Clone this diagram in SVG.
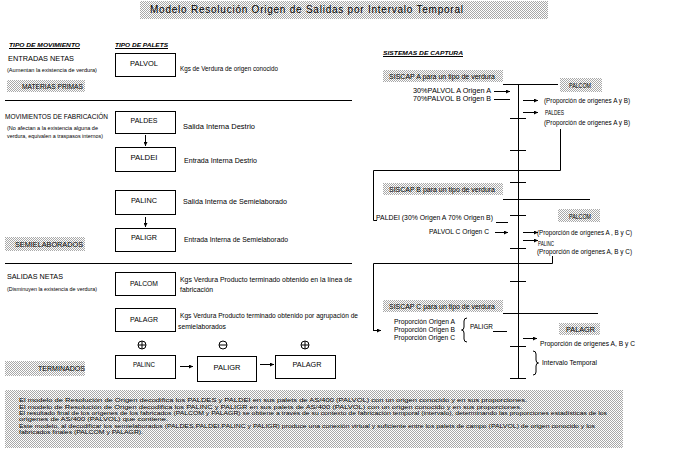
<svg xmlns="http://www.w3.org/2000/svg" width="700" height="451" viewBox="0 0 700 451">
<defs>
<pattern id="dith" width="2" height="2" patternUnits="userSpaceOnUse">
<rect width="2" height="2" fill="#ffffff"/>
<rect width="1" height="1" fill="#a8a8a8"/>
<rect x="1" y="1" width="1" height="1" fill="#a8a8a8"/>
</pattern>
<marker id="ah" viewBox="0 0 6 6" refX="6" refY="3" markerWidth="4" markerHeight="4" orient="auto" markerUnits="userSpaceOnUse">
<path d="M0,0 L6,3 L0,6 Z" fill="#000"/>
</marker>
</defs>
<style>
text{font-family:"Liberation Sans",Arial,sans-serif;fill:#000}
.t{font-size:6.3px}
.s{font-size:5.2px}
.n{font-size:6px}
.h{font-size:6.2px;font-weight:bold;font-style:italic}
.b{font-size:6.3px;text-anchor:middle}
.box{fill:#fff;stroke:#000;stroke-width:1}
.g{fill:url(#dith)}
.ln{stroke:#000;stroke-width:1;fill:none}
.ar{stroke:#000;stroke-width:1;fill:none;marker-end:url(#ah)}
</style>
<rect width="700" height="451" fill="#fff"/>

<g id="title">
<rect class="g" x="140" y="1" width="408" height="18"/>
<text x="150" y="13" style="font-size:10px" textLength="313" lengthAdjust="spacing">Modelo Resolución Origen de Salidas por Intervalo Temporal</text>
</g>

<g id="headers">
<text class="h" x="9" y="47" textLength="71" lengthAdjust="spacingAndGlyphs">TIPO DE MOVIMIENTO</text>
<line class="ln" x1="9" y1="48.5" x2="80" y2="48.5"/>
<text class="h" x="115" y="47" textLength="53" lengthAdjust="spacingAndGlyphs">TIPO DE PALETS</text>
<line class="ln" x1="115" y1="48.5" x2="168" y2="48.5"/>
<text class="h" x="383" y="55" textLength="80" lengthAdjust="spacingAndGlyphs">SISTEMAS DE CAPTURA</text>
<line class="ln" x1="383" y1="56.5" x2="463" y2="56.5"/>
</g>

<g id="entradas">
<text class="t" x="8" y="61" textLength="66" lengthAdjust="spacingAndGlyphs">ENTRADAS NETAS</text>
<text class="s" x="7" y="72" textLength="90" lengthAdjust="spacingAndGlyphs">(Aumentan la existencia de verdura)</text>
<rect class="g" x="7" y="80" width="78" height="12"/>
<text class="t" x="22" y="88.5" textLength="61" lengthAdjust="spacingAndGlyphs">MATERIAS PRIMAS</text>
</g>
<g id="palvol">
<rect class="box" x="115.5" y="53.5" width="60" height="23"/>
<text class="b" x="144" y="66" textLength="28" lengthAdjust="spacingAndGlyphs">PALVOL</text>
<text class="t" x="180" y="71" textLength="98" lengthAdjust="spacingAndGlyphs">Kgs de Verdura de origen conocido</text>
</g>

<g id="fabricacion">
<text class="t" x="5" y="118.5" textLength="103" lengthAdjust="spacingAndGlyphs">MOVIMIENTOS DE FABRICACIÓN</text>
<text class="s" x="7" y="130" textLength="91" lengthAdjust="spacingAndGlyphs">(No afectan a la existencia alguna de</text>
<text class="s" x="7" y="137.5" textLength="96" lengthAdjust="spacingAndGlyphs">verdura, equivalen a traspasos internos)</text>
</g>
<g id="paldes">
<rect class="box" x="115.5" y="111.5" width="60" height="22"/>
<text class="b" x="144" y="123" textLength="27" lengthAdjust="spacingAndGlyphs">PALDES</text>
<text class="t" x="183" y="128.5" textLength="72" lengthAdjust="spacingAndGlyphs">Salida Interna Destrio</text>
</g>
<g id="paldei">
<rect class="box" x="115.5" y="147.5" width="60" height="24"/>
<text class="b" x="144" y="160" textLength="27" lengthAdjust="spacingAndGlyphs">PALDEI</text>
<text class="t" x="184" y="162.5" textLength="73" lengthAdjust="spacingAndGlyphs">Entrada Interna Destrio</text>
</g>
<g id="palinc">
<rect class="box" x="115.5" y="190.5" width="60" height="24"/>
<text class="b" x="144" y="203" textLength="26" lengthAdjust="spacingAndGlyphs">PALINC</text>
<text class="t" x="183" y="203.5" textLength="104" lengthAdjust="spacingAndGlyphs">Salida Interna de Semielaborado</text>
</g>
<g id="paligr">
<rect class="box" x="115.5" y="228.5" width="60" height="23"/>
<text class="b" x="144" y="240" textLength="26" lengthAdjust="spacingAndGlyphs">PALIGR</text>
<text class="t" x="184" y="241.5" textLength="104" lengthAdjust="spacingAndGlyphs">Entrada Interna de Semielaborado</text>
</g>
<g id="semielaborados">
<rect class="g" x="5" y="237" width="80" height="14"/>
<text class="t" x="15" y="246.5" textLength="68" lengthAdjust="spacingAndGlyphs">SEMIELABORADOS</text>
</g>

<g id="salidas">
<text class="t" x="7" y="279" textLength="56" lengthAdjust="spacingAndGlyphs">SALIDAS NETAS</text>
<text class="s" x="7" y="290.5" textLength="90" lengthAdjust="spacingAndGlyphs">(Disminuyen la existencia de verdura)</text>
</g>
<g id="palcom">
<rect class="box" x="115.5" y="272.5" width="60" height="23"/>
<text class="b" x="144" y="286" textLength="28" lengthAdjust="spacingAndGlyphs">PALCOM</text>
<text class="t" x="180" y="281.5" textLength="172" lengthAdjust="spacingAndGlyphs">Kgs Verdura Producto terminado obtenido en la línea de</text>
<text class="t" x="180" y="292" textLength="33" lengthAdjust="spacingAndGlyphs">fabricación</text>
</g>
<g id="palagr">
<rect class="box" x="115.5" y="308.5" width="60" height="23"/>
<text class="b" x="144" y="322" textLength="28" lengthAdjust="spacingAndGlyphs">PALAGR</text>
<text class="t" x="180" y="318" textLength="178" lengthAdjust="spacingAndGlyphs">Kgs Verdura Producto terminado obtenido por agrupación de</text>
<text class="t" x="178" y="329" textLength="48" lengthAdjust="spacingAndGlyphs">semielaborados</text>
</g>

<g id="terminados">
<rect class="g" x="5" y="361" width="80" height="15"/>
<text class="t" x="38" y="371" textLength="47" lengthAdjust="spacingAndGlyphs">TERMINADOS</text>
</g>
<g id="calc-palinc">
<circle class="ln" cx="142" cy="345" r="4"/>
<line class="ln" x1="138" y1="345" x2="146" y2="345"/><line class="ln" x1="142" y1="341" x2="142" y2="349"/>
<rect class="box" x="115.5" y="355.5" width="60" height="23"/>
<text class="b" x="144" y="367" textLength="22" lengthAdjust="spacingAndGlyphs">PALINC</text>
</g>
<g id="calc-paligr">
<circle class="ln" cx="223" cy="345" r="4"/>
<line class="ln" x1="219" y1="345" x2="227" y2="345"/>
<rect class="box" x="197.5" y="356.5" width="59" height="25"/>
<text class="b" x="227" y="369.5" textLength="27" lengthAdjust="spacingAndGlyphs">PALIGR</text>
</g>
<g id="calc-palagr">
<circle class="ln" cx="305" cy="345" r="4"/>
<line class="ln" x1="301" y1="345" x2="309" y2="345"/><line class="ln" x1="305" y1="341" x2="305" y2="349"/>
<rect class="box" x="275.5" y="355.5" width="60" height="23"/>
<text class="b" x="307" y="367" textLength="29" lengthAdjust="spacingAndGlyphs">PALAGR</text>
</g>

<g id="siscap-a">
<rect class="g" x="383" y="70" width="120" height="12"/>
<text class="t" x="389" y="78.5" textLength="106" lengthAdjust="spacingAndGlyphs">SISCAP A para un tipo de verdura</text>
<text class="t" x="413" y="92.5" textLength="78" lengthAdjust="spacingAndGlyphs">30%PALVOL A Origen A</text>
<text class="t" x="413" y="100.5" textLength="78" lengthAdjust="spacingAndGlyphs">70%PALVOL B Origen B</text>
<rect class="g" x="560" y="78" width="42" height="14"/>
<text class="t" x="569" y="88" textLength="22" lengthAdjust="spacingAndGlyphs">PALCOM</text>
<text class="t" x="544" y="102.5" textLength="86" lengthAdjust="spacingAndGlyphs">(Proporción de orígenes A y B)</text>
<text class="t" x="545" y="114.5" textLength="19" lengthAdjust="spacingAndGlyphs">PALDES</text>
<text class="t" x="544" y="124.5" textLength="86" lengthAdjust="spacingAndGlyphs">(Proporción de orígenes A y B)</text>
</g>
<g id="siscap-b">
<rect class="g" x="383" y="183" width="120" height="12"/>
<text class="t" x="389" y="191.5" textLength="106" lengthAdjust="spacingAndGlyphs">SISCAP B para un tipo de verdura</text>
<text class="t" x="376" y="219.5" textLength="117" lengthAdjust="spacingAndGlyphs">PALDEI (30% Origen A 70% Origen B)</text>
<text class="t" x="429" y="233.5" textLength="60" lengthAdjust="spacingAndGlyphs">PALVOL C Origen C</text>
<rect class="g" x="558" y="209" width="42" height="13"/>
<text class="t" x="569" y="218.5" textLength="22" lengthAdjust="spacingAndGlyphs">PALCOM</text>
<text class="t" x="537" y="234.5" textLength="95" lengthAdjust="spacingAndGlyphs">(Proporción de orígenes A , B y C)</text>
<text class="t" x="538" y="245.5" textLength="16" lengthAdjust="spacingAndGlyphs">PALINC</text>
<text class="t" x="537" y="253.5" textLength="95" lengthAdjust="spacingAndGlyphs">(Proporción de orígenes A, B y C)</text>
</g>
<g id="siscap-c">
<rect class="g" x="383" y="300" width="120" height="12"/>
<text class="t" x="389" y="308.5" textLength="106" lengthAdjust="spacingAndGlyphs">SISCAP C para un tipo de verdura</text>
<text class="t" x="394" y="323.5" textLength="61" lengthAdjust="spacingAndGlyphs">Proporción Origen A</text>
<text class="t" x="394" y="331.5" textLength="61" lengthAdjust="spacingAndGlyphs">Proporción Origen B</text>
<text class="t" x="394" y="340" textLength="61" lengthAdjust="spacingAndGlyphs">Proporción Origen C</text>
<path class="ln" d="M467,318 Q464,318 464,321 L464,327 Q464,330 461.5,330 Q464,330 464,333 L464,339 Q464,342 467,342"/>
<text class="t" x="470" y="328.5" textLength="23" lengthAdjust="spacingAndGlyphs">PALIGR</text>
<rect class="g" x="559" y="323" width="41" height="12"/>
<text class="t" x="566" y="332" textLength="29" lengthAdjust="spacingAndGlyphs">PALAGR</text>
<text class="t" x="540" y="345.5" textLength="95" lengthAdjust="spacingAndGlyphs">Proporción de orígenes A, B y C</text>
<path class="ln" d="M533,351 Q536,351 536,354 L536,360 Q536,363 538.5,363 Q536,363 536,366 L536,372 Q536,375 533,375"/>
<text class="t" x="542" y="365" textLength="55" lengthAdjust="spacingAndGlyphs">Intervalo Temporal</text>
</g>

<g id="connectors">
<line class="ln" x1="5" y1="100.5" x2="352" y2="100.5"/>
<line class="ln" x1="5" y1="263.5" x2="352" y2="263.5"/>
<line class="ar" x1="145.5" y1="135" x2="145.5" y2="146"/>
<line class="ar" x1="145.5" y1="217" x2="145.5" y2="227"/>
<line class="ar" x1="180" y1="366.5" x2="193" y2="366.5"/>
<line class="ar" x1="260" y1="364.5" x2="274" y2="364.5"/>

<line class="ln" x1="518.5" y1="84" x2="518.5" y2="378"/>
<line class="ln" x1="503" y1="84.5" x2="558" y2="84.5"/>
<line class="ln" x1="503" y1="199.5" x2="590" y2="199.5"/>
<line class="ln" x1="503" y1="313.5" x2="598" y2="313.5"/>
<line class="ln" x1="510" y1="118.5" x2="526" y2="118.5"/>
<line class="ln" x1="510" y1="150.5" x2="526" y2="150.5"/>
<line class="ln" x1="510" y1="182.5" x2="526" y2="182.5"/>
<line class="ln" x1="510" y1="215.5" x2="526" y2="215.5"/>
<line class="ln" x1="510" y1="248.5" x2="526" y2="248.5"/>
<line class="ln" x1="510" y1="281.5" x2="526" y2="281.5"/>
<line class="ln" x1="510" y1="346.5" x2="526" y2="346.5"/>
<line class="ln" x1="510" y1="378.5" x2="526" y2="378.5"/>

<line class="ar" x1="494" y1="91.5" x2="510" y2="91.5"/>
<line class="ln" x1="494" y1="99.5" x2="510" y2="99.5"/>
<line class="ar" x1="523" y1="100.5" x2="538" y2="100.5"/>
<line class="ar" x1="523" y1="112.5" x2="538" y2="112.5"/>

<polyline class="ln" points="560.5,129 560.5,170.5 373.5,170.5 373.5,220.5 377,220.5"/>
<line class="ln" x1="496" y1="222.5" x2="508" y2="222.5"/>
<line class="ar" x1="495" y1="232.5" x2="508" y2="232.5"/>
<line class="ar" x1="523" y1="232.5" x2="538" y2="232.5"/>
<line class="ar" x1="523" y1="240.5" x2="538" y2="240.5"/>

<polyline class="ln" points="552.5,256 552.5,263.5 373.5,263.5 373.5,330.5"/>
<line class="ar" x1="373" y1="330.5" x2="381" y2="330.5"/>
<line class="ln" x1="493" y1="331.5" x2="507" y2="331.5"/>
<line class="ar" x1="523" y1="338.5" x2="537" y2="338.5"/>
</g>

<g id="notes">
<rect class="g" x="5" y="390" width="618" height="58"/>
<text class="n" x="19" y="402" textLength="508" lengthAdjust="spacingAndGlyphs">El modelo de Resolución de Origen decodifica los PALDES y PALDEI en sus palets de AS/400 (PALVOL) con un origen conocido y en sus proporciones.</text>
<text class="n" x="19" y="408.5" textLength="503" lengthAdjust="spacingAndGlyphs">El modelo de Resolución de Origen decodifica los PALINC y PALIGR en sus palets de AS/400 (PALVOL) con un origen conocido y en sus proporciones.</text>
<text class="n" x="19" y="415" textLength="588" lengthAdjust="spacingAndGlyphs">El resultado final de los orígenes de los fabricados (PALCOM y PALAGR) se obtiene a través de su contexto de fabricación temporal (intervalo), determinando las proporciones estadísticas de los</text>
<text class="n" x="19" y="421" textLength="149" lengthAdjust="spacingAndGlyphs">orígenes de AS/400 (PALVOL) que contiene.</text>
<text class="n" x="19" y="427.5" textLength="576" lengthAdjust="spacingAndGlyphs">Este modelo, al decodificar los semielaborados (PALDES,PALDEI,PALINC y PALIGR) produce una conexión virtual y suficiente entre los palets de campo (PALVOL) de origen conocido y los</text>
<text class="n" x="19" y="433.5" textLength="124" lengthAdjust="spacingAndGlyphs">fabricados finales (PALCOM y PALAGR).</text>
</g>
</svg>
